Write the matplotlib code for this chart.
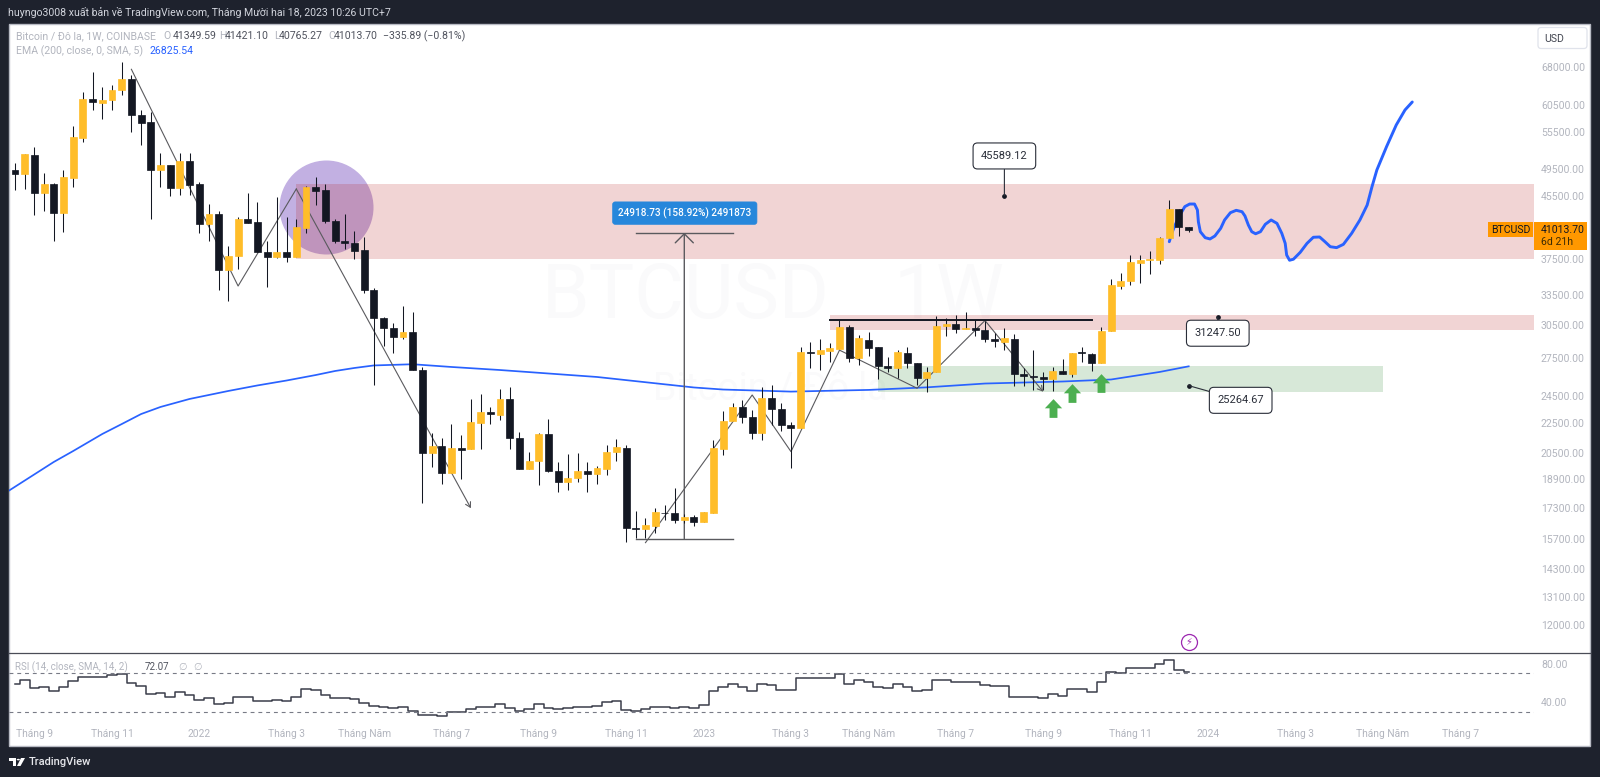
import numpy as np
import matplotlib
matplotlib.use("Agg")
import matplotlib.pyplot as plt
from matplotlib.lines import Line2D
from matplotlib.patches import Rectangle, FancyBboxPatch, Polygon, Circle
from matplotlib.ticker import NullLocator

plt.rcParams['font.family'] = ['Roboto', 'DejaVu Sans']

W, H = 1600, 777

# weekly candles
opens = [49330, 48760, 51800, 45920, 47310, 43155, 48210, 54590, 61564, 60860,
         61372, 63250, 65512, 58640, 57260, 49370, 50100, 46690, 50770, 47220,
         41690, 43070, 36190, 37800, 42360, 42030, 38320, 37680, 38320, 37640,
         41190, 46880, 46400, 42140, 39600, 39390, 38470, 34010, 31200, 30190,
         29390, 29880, 26520, 20500, 20940, 19270, 20800, 20730, 22515, 23280,
         23060, 24240, 21470, 19520, 19960, 21720, 19360, 18745, 18990, 19360,
         19200, 19520, 20540, 20840, 16230, 16180, 16350, 17020, 17020, 16660,
         16780, 16540, 17000, 20770, 22630, 23650, 22900, 21780, 24280, 23480,
         22370, 22170, 28040, 27900, 28130, 28280, 30315, 27510, 29150, 28490,
         26880, 26690, 27970, 27080, 25870, 26330, 30440, 30570, 30090, 30220,
         30000, 29240, 28970, 29200, 26170, 26010, 25930, 25790, 26430, 26170,
         28040, 27900, 27080, 29950, 34440, 34930, 36990, 37350, 37370, 39970,
         43780, 41349.59]
closes = [48760, 51840, 45965, 47270, 43155, 48270, 54708, 61564, 60915, 61440,
          63310, 65512, 58580, 57190, 49420, 50150, 46690, 50820, 47160, 41790,
          43070, 36190, 37800, 42360, 41880, 38280, 37680, 38320, 37680, 41320,
          46880, 46300, 42180, 39600, 39340, 38390, 34010, 31200, 30190, 29420,
          29880, 26520, 20510, 20940, 19280, 20800, 20710, 22560, 23280, 23110,
          24240, 21470, 19520, 19970, 21720, 19390, 18745, 18990, 19360, 19200,
          19540, 20540, 20860, 16250, 16180, 16380, 17040, 16990, 16660, 16780,
          16540, 17040, 20840, 22670, 23650, 22900, 21780, 24280, 23480, 22370,
          22170, 28020, 28000, 28190, 28360, 30315, 27530, 29270, 28400, 26880,
          26710, 28020, 27080, 25870, 26330, 30440, 30590, 30100, 30190, 30000,
          29200, 29000, 29270, 26160, 26030, 25930, 25820, 26430, 26220, 27950,
          27950, 27080, 29950, 34510, 34970, 37040, 37370, 37420, 39970, 43780,
          41362, 41013.70]
highs = [50500, 51890, 52985, 48866, 47459, 49375, 56610, 62970, 67010, 63845,
         64300, 69060, 66330, 59495, 59190, 52000, 50150, 52000, 52100, 47610,
         44420, 43510, 39000, 42700, 45920, 44750, 39640, 45440, 42700, 42360,
         46980, 48360, 47270, 42360, 43070, 40850, 40060, 34190, 31240, 30700,
         32360, 31730, 26800, 21820, 21490, 22420, 21650, 24260, 24600, 23620,
         24980, 25180, 21900, 20580, 21820, 22760, 19950, 20400, 20480, 19950,
         19680, 21010, 21400, 21010, 17110, 16730, 17290, 17440, 18370, 16970,
         16900, 17040, 21340, 23350, 23900, 24130, 23420, 25180, 25320, 23900,
         22590, 28520, 28930, 29180, 28860, 30990, 30500, 29590, 29840, 28490,
         27650, 28180, 28520, 27140, 26750, 31370, 31200, 31470, 31800, 31000,
         30930, 29710, 30190, 29660, 26690, 28180, 26330, 26800, 27470, 28000,
         28520, 27950, 30350, 35190, 35850, 37910, 37950, 38440, 40130, 44970,
         43780, 41421.10]
lows = [46400, 46550, 42920, 43470, 39637, 40720, 46880, 53860, 59495, 57855,
        59495, 62330, 55610, 53400, 42360, 46790, 45590, 45680, 45680, 40550,
        39640, 34010, 32895, 36300, 41880, 38280, 34360, 37560, 37140, 37640,
        40610, 44290, 41900, 39310, 38590, 37410, 33730, 25320, 28580, 28000,
        29210, 26520, 17570, 19600, 18600, 19260, 18880, 20730, 20730, 22400,
        22710, 20760, 19520, 19520, 18540, 19340, 18130, 18280, 18700, 18130,
        18610, 19140, 19990, 15520, 15740, 15720, 15980, 16640, 16490, 16490,
        16340, 16540, 17000, 20370, 22630, 22470, 21430, 21340, 22370, 21970,
        19580, 22120, 26660, 26520, 27150, 28280, 27170, 26940, 27710, 25810,
        26340, 25840, 26660, 25320, 24770, 26330, 29480, 29720, 30090, 29510,
        28960, 28510, 28230, 25240, 25240, 24930, 24930, 24870, 26180, 25930,
        27170, 26470, 27080, 29950, 34110, 34540, 34720, 35710, 36810, 39940,
        40220, 40765.27]

rsi = [59.4, 62.9, 54.9, 55.6, 51.4, 55.6, 62.2, 66.7, 66.0, 66.0,
       68.8, 69.5, 59.8, 57.3, 48.6, 50.0, 45.9, 50.7, 47.3, 42.4,
       44.1, 37.9, 39.6, 45.2, 45.2, 41.4, 41.4, 42.4, 41.4, 45.9,
       53.5, 52.5, 47.3, 44.8, 44.1, 43.4, 38.9, 35.8, 34.8, 34.1,
       35.5, 31.3, 26.4, 27.1, 25.4, 29.9, 29.9, 33.4, 35.1, 35.1,
       37.9, 33.7, 31.3, 33.4, 37.9, 34.4, 33.4, 34.1, 35.1, 35.5,
       36.5, 40.3, 41.0, 32.3, 30.9, 32.7, 35.5, 35.1, 34.4, 35.5,
       34.1, 37.2, 51.8, 55.9, 58.7, 56.3, 52.1, 59.1, 57.7, 53.2,
       52.5, 65.7, 65.0, 65.0, 65.7, 69.8, 59.4, 63.2, 61.1, 55.6,
       54.5, 58.7, 56.3, 52.1, 52.8, 63.6, 63.2, 61.5, 61.5, 61.5,
       57.7, 56.6, 57.3, 45.9, 45.9, 45.9, 44.5, 49.0, 46.9, 54.2,
       54.2, 50.4, 61.1, 71.6, 70.9, 75.4, 76.1, 76.1, 79.5, 83.7,
       73.3, 72.07]

ema_idx = [-1, 4, 6, 9, 11, 13, 15, 18, 22, 25, 28, 31, 33, 35, 37, 41, 45, 50, 60, 70, 73, 80, 88, 94, 100, 108, 113, 118, 121]
ema_val = [18100, 19930, 20620, 21740, 22420, 23130, 23644, 24240, 24850, 25280, 25670, 26110, 26440, 26690, 26900, 27000,
           26772, 26520, 25953, 25120, 24960, 24800, 24930, 25130, 25430, 25590, 25750, 26360, 26825.54]

# hand drawn forecast curve
fc_idx = [119.0, 119.25, 119.6, 120.1, 120.6, 121.1, 121.6, 121.9, 122.0, 122.2, 122.7, 123.2,
          123.7, 124.3, 124.7, 125.3, 125.9, 126.5, 126.8, 127.15, 127.5, 127.9, 128.4, 128.9,
          129.5, 130.1, 130.6, 130.95, 131.1, 131.4, 131.8, 132.5, 133.2, 133.85, 134.5, 135.05,
          135.6, 136.25, 136.95, 137.8, 138.65, 139.4, 139.9, 140.4, 141.4, 142.4, 143.3, 144.05]
fc_val = [39510, 40550, 41620, 42930, 44060, 44420, 44420, 43605, 42030, 40760, 40010, 39850,
          40220, 41190, 42270, 43240, 43560, 43370, 42800, 41620, 40760, 40500, 40760, 41710,
          42270, 41830, 40550, 39310, 37910, 37300, 37420, 38230, 39310, 40060, 40096, 39510,
          38900, 38790, 39190, 40550, 42270, 44277, 46880, 49375, 53090, 56790, 59495, 60990]

# trend lines
zig1_idx = [12, 23, 29, 47]
zig1_val = [67510, 34430, 46550, 17260]
zig2_idx = [65, 76, 80, 85, 93, 100, 106]
zig2_val = [15510, 24540, 20580, 28210, 25060, 30930, 24790]

y_ticks = [68000, 60500, 55500, 49500, 45500, 37500, 33500, 30500, 27500, 24500,
           22500, 20500, 18900, 17300, 15700, 14300, 13100, 12000]
x_tick_idx = [2, 10, 19, 28, 36, 45, 54, 63, 71, 80, 88, 97, 106, 115, 123, 132, 141, 149]
x_tick_lab = ['Tháng 9', 'Tháng 11', '2022', 'Tháng 3', 'Tháng Năm', 'Tháng 7', 'Tháng 9', 'Tháng 11', '2023',
              'Tháng 3', 'Tháng Năm', 'Tháng 7', 'Tháng 9', 'Tháng 11', '2024', 'Tháng 3', 'Tháng Năm', 'Tháng 7']

UP = '#FFBD29'
DOWN = '#131722'
GREY = '#B2B5BE'
LINE = '#5A5A5E'
BLUE = '#2962FF'
WATER = '#FAFAFB'


def rect(x0, y0, x1, y1):
    return [x0 / W, 1 - y1 / H, (x1 - x0) / W, (y1 - y0) / H]


def ftext(x, y, s, **kw):
    kw.setdefault('va', 'center')
    kw.setdefault('fontsize', 7.6)
    kw.setdefault('color', GREY)
    return fig.text(x / W, 1 - y / H, s, **kw)


def fbox(x0, y0, x1, y1, **kw):
    fig.add_artist(Rectangle((x0 / W, 1 - y1 / H), (x1 - x0) / W, (y1 - y0) / H, transform=fig.transFigure, **kw))


def figpoly(pts, color):
    fig.add_artist(Polygon([(x / W, 1 - y / H) for x, y in pts], closed=True, fc=color, ec='none',
                           transform=fig.transFigure))


fig = plt.figure(figsize=(W / 100, H / 100), dpi=100, facecolor='#1E222D')
fbox(9, 24, 1590, 746, fc='white', ec='#B8BBC4', lw=1, zorder=-5)

ax = fig.add_axes(rect(9, 24, 1534, 653))
ax.patch.set_alpha(0)
ax2 = fig.add_axes(rect(9, 654, 1534, 722))
ax2.patch.set_alpha(0)

idx = np.arange(len(opens))
o, c, h, l = map(np.array, (opens, closes, highs, lows))
up = c >= o

ax.set_yscale('log')
ax.set_xlim(-0.6186, 156.6)
ax.set_ylim(11008, 77715)

# watermark
ax.text(69.1, 33180, 'BTCUSD', ha='center', va='center', fontsize=55, color=WATER, zorder=0)
ax.text(96.3, 33180, '1W', ha='center', va='center', fontsize=55, color=WATER, zorder=0)
ax.text(77.9, 25000, 'Bitcoin / Đô la', ha='center', va='center', fontsize=27, color=WATER, zorder=0)

# purple circle goes under the zones
ax.scatter([32.03], [44050], s=4583, color='#673AB7', alpha=0.4, lw=0, zorder=0.5)

# zones
ax.fill_between([29, 156.6], 37450, 47270, color='#B71C1C', alpha=0.19, lw=0, zorder=1)
ax.fill_between([84, 156.6], 29990, 31470, color='#B71C1C', alpha=0.19, lw=0, zorder=1)
ax.fill_between([89, 141], 24790, 26855, color='#388E3C', alpha=0.2, lw=0, zorder=1)

# ema + forecast
ax.plot(ema_idx, ema_val, color=BLUE, lw=1.25, zorder=2)
ax.plot(fc_idx, fc_val, color=BLUE, lw=2.1, solid_capstyle='round', solid_joinstyle='round', zorder=2)

# zigzags with open arrow at the end
ax.plot(zig1_idx[:-1], zig1_val[:-1], color=LINE, lw=0.8, zorder=2)
ax.plot(zig2_idx[:-1], zig2_val[:-1], color=LINE, lw=0.8, zorder=2)
for xs, ys in ((zig1_idx, zig1_val), (zig2_idx, zig2_val)):
    ax.annotate('', xy=(xs[-1], ys[-1]), xytext=(xs[-2], ys[-2]), zorder=2,
                arrowprops=dict(arrowstyle='->,head_length=0.35,head_width=0.2', color=LINE, lw=0.8,
                                shrinkA=0, shrinkB=0))

# price range ruler
ax.plot([64, 74], [15700, 15700], color=LINE, lw=1, zorder=2)
ax.plot([64, 74], [40618.73, 40618.73], color=LINE, lw=1, zorder=2)
ax.annotate('', xy=(69, 40618.73), xytext=(69, 15700), zorder=2,
            arrowprops=dict(arrowstyle='->,head_length=0.65,head_width=0.65', color=LINE, lw=1,
                            shrinkA=0, shrinkB=0))
ax.annotate('24918.73 (158.92%) 2491873', xy=(69, 40618.73), xytext=(0.5, 19.7), textcoords='offset pixels',
            ha='center', va='center', color='white', fontsize=7.2, fontweight='medium', zorder=8,
            bbox=dict(boxstyle='round,pad=0.55,rounding_size=0.25', fc='#2787DB', ec='#2787DB', lw=0.5))

# candles
ax.vlines(idx, l, h, color=DOWN, lw=0.75, zorder=3)
body_col = [UP if u else DOWN for u in up]
ax.bar(idx, c - o, bottom=o, width=0.72, color=body_col, edgecolor=body_col, lw=0.5, zorder=3.5)

# resistance line on top of the candles
ax.plot([84, 111], [30990, 30990], color=DOWN, lw=1.4, zorder=4)

# green arrows
arrow_marker = [(0, 1), (0.92, 0.02), (0.42, 0.02), (0.42, -1), (-0.42, -1), (-0.42, 0.02), (-0.92, 0.02)]
ax.plot([107, 109, 112], [23570, 24670, 25500], ls='none', marker=arrow_marker, ms=13.5,
        color='#4CAF50', mew=0, zorder=5)

# notes with a dot
for xi, price, off in ((102, 45589.12, (0, 39.7)), (124, 31247.50, (0, -16)), (121, 25264.67, (52, -14.7))):
    ax.plot([xi], [price], 'o', color=DOWN, ms=2.4, zorder=6)
    ax.annotate(f'{price:.2f}', xy=(xi, price), xytext=off, textcoords='offset pixels', ha='center', va='center',
                fontsize=8, color='#2A2E39', zorder=7,
                bbox=dict(boxstyle='round,pad=0.72,rounding_size=0.4', fc='white', ec='#2A2E39', lw=0.8),
                arrowprops=dict(arrowstyle='-', color='#2A2E39', lw=0.8, shrinkA=0, shrinkB=0))

# lightning badge
ax.plot([121], [11390], 'o', ms=11.5, mfc='white', mec='#9C27B0', mew=0.9, clip_on=False, zorder=6)
ax.text(121, 11390, '⚡', ha='center', va='center', fontsize=7, color='#9C27B0', zorder=7)

ax.yaxis.set_major_locator(plt.FixedLocator(y_ticks))
ax.yaxis.set_minor_locator(NullLocator())
ax.set_yticklabels([f'{t:.2f}' for t in y_ticks])
ax.tick_params(axis='y', which='both', left=False, right=False, labelleft=False, labelright=True, pad=1.5,
               labelsize=7.6, labelcolor=GREY)
ax.set_xticks([])
for sp in ax.spines.values():
    sp.set_visible(False)

# rsi pane
ax2.step(idx, rsi, where='mid', color='#3A3D4A', lw=1.1)
ax2.axhline(70, color='#787B86', lw=0.8, ls=(0, (3.5, 3.5)))
ax2.axhline(30, color='#787B86', lw=0.8, ls=(0, (3.5, 3.5)))
ax2.set_xlim(-0.6186, 156.6)
ax2.set_ylim(19.5, 90.3)
ax2.set_yticks([80, 40])
ax2.set_yticklabels(['80.00', '40.00'])
ax2.set_xticks(x_tick_idx)
ax2.set_xticklabels(x_tick_lab)
ax2.tick_params(axis='y', left=False, labelleft=False, labelright=True, pad=1.5, labelsize=7.6, labelcolor=GREY)
ax2.tick_params(axis='x', length=0, pad=5, labelsize=7.4, labelcolor=GREY)
for sp in ax2.spines.values():
    sp.set_visible(False)

# pane separator
fig.add_artist(Line2D([9 / W, 1590 / W], [1 - 653 / H, 1 - 653 / H], color='#4A4D57', lw=0.9))

# top bar
ftext(8, 12, 'huyngo3008 xuất bản về TradingView.com, Tháng Mười hai 18, 2023 10:26 UTC+7', color='#D1D4DC', fontsize=7.6)

# legend rows
ftext(15.7, 36, 'Bitcoin / Đô la, 1W, COINBASE')
for lx, vx, lab, val in ((163, 173, 'O', '41349.59'), (219, 225, 'H', '41421.10'),
                         (274, 279, 'L', '40765.27'), (328, 334, 'C', '41013.70')):
    ftext(lx, 36, lab)
    ftext(vx, 36, val, color='#50535E')
ftext(383, 36, '−335.89 (−0.81%)', color='#50535E')
ftext(15.7, 51, 'EMA (200, close, 0, SMA, 5)')
ftext(150, 51, '26825.54', color=BLUE)
ftext(15, 667, 'RSI (14, close, SMA, 14, 2)', fontsize=7)
ftext(145, 667, '72.07', color='#50535E', fontsize=7)
ftext(178, 667, '∅', fontsize=7)
ftext(193, 667, '∅', fontsize=7)

# USD button
fig.add_artist(FancyBboxPatch((1538 / W, 1 - 48.5 / H), 49 / W, 21 / H, transform=fig.transFigure,
                              boxstyle='round,pad=0,rounding_size=0.002', fc='white', ec='#E0E3EB', lw=0.9,
                              mutation_aspect=W / H))
ftext(1554.5, 39, 'USD', ha='center', color='#434651')

# last price labels
fbox(1534, 222, 1587, 249.5, fc='#FF9800', ec='none')
fbox(1488, 222, 1533, 237, fc='#FF9800', ec='none')
ftext(1541, 230, '41013.70', color='#131722')
ftext(1541, 242, '6d 21h', color='#3A2A05')
ftext(1510.5, 230, 'BTCUSD', ha='center', color='#131722')

# TradingView logo
figpoly([(9, 758), (16, 758), (16, 766), (12.5, 766), (12.5, 761), (9, 761)], 'white')
fig.add_artist(Circle((18.3 / W, 1 - 759.6 / H), 1.6 / W, fc='white', ec='none', transform=fig.transFigure))
figpoly([(17, 766), (21, 758), (25, 758), (20.5, 766)], 'white')
ftext(29, 762, 'TradingView', color='#E6E7EB', fontsize=8, fontweight='medium')

fig.savefig('out.png', dpi=100, facecolor=fig.get_facecolor())
